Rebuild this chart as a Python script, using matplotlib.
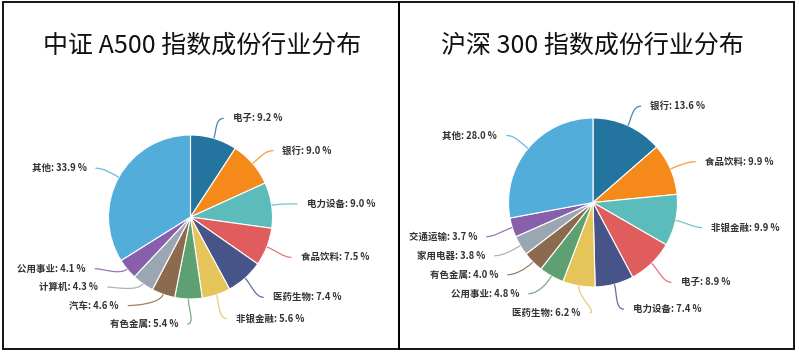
import numpy as np
import matplotlib
matplotlib.use("Agg")
import matplotlib.pyplot as plt
from matplotlib.path import Path
from matplotlib.patches import PathPatch, Rectangle

plt.rcParams['font.family'] = ['Noto Sans CJK SC', 'DejaVu Sans']

# ---------------- data ----------------
title_a500 = "中证 A500 指数成份行业分布"
cats_a500 = ["电子", "银行", "电力设备", "食品饮料", "医药生物", "非银金融",
             "有色金属", "汽车", "计算机", "公用事业", "其他"]
vals_a500 = [9.2, 9.0, 9.0, 7.5, 7.4, 5.6, 5.4, 4.6, 4.3, 4.1, 33.9]

title_hs300 = "沪深 300 指数成份行业分布"
cats_hs300 = ["银行", "食品饮料", "非银金融", "电子", "电力设备", "医药生物",
              "公用事业", "有色金属", "家用电器", "交通运输", "其他"]
vals_hs300 = [13.6, 9.9, 9.9, 8.9, 7.4, 6.2, 4.8, 4.0, 3.8, 3.7, 28.0]

colors = ["#23759f", "#f5891a", "#5cbcbc", "#e05d5e", "#47548a", "#e5c55a",
          "#5ea072", "#8c6a4d", "#9aa6b1", "#875fab", "#52addb"]

W, H, DPI = 799, 353, 100
fig = plt.figure(figsize=(W / DPI, H / DPI), dpi=DPI)
fig.patch.set_facecolor("white")


def draw_pie(cx, cy, r, cats, vals, R=1.28, gap=0.225, aw=380, ah=250):
    ax = fig.add_axes([(cx - aw / 2) / W, (H - cy - ah / 2) / H, aw / W, ah / H])
    wedges, _ = ax.pie(vals, colors=colors, startangle=90, counterclock=False,
                       radius=1.0, center=(0, 0),
                       wedgeprops=dict(edgecolor="white", linewidth=0.8))
    ax.set_aspect("auto")
    ax.set_xlim(-aw / 2 / r, aw / 2 / r)
    ax.set_ylim(-ah / 2 / r, ah / 2 / r)
    ax.axis("off")
    items = []
    for w, c, v, col in zip(wedges, cats, vals, colors):
        th = np.deg2rad((w.theta1 + w.theta2) / 2)
        d = 1 if np.cos(th) >= 0 else -1
        items.append(dict(th=th, d=d, y=R * np.sin(th), name=c, v=v, col=col))
    for d in (1, -1):
        side = sorted([it for it in items if it["d"] == d], key=lambda it: -it["y"])
        for i in range(1, len(side)):
            side[i]["y"] = min(side[i]["y"], side[i - 1]["y"] - gap)
        if side and side[-1]["y"] < -R:
            side[-1]["y"] = -R
            for i in range(len(side) - 2, -1, -1):
                side[i]["y"] = max(side[i]["y"], side[i + 1]["y"] + gap)
    for it in items:
        th, d, y = it["th"], it["d"], it["y"]
        x = d * np.sqrt(max(R * R - y * y, 0.0))
        yl = y - 0.025
        p0 = (np.cos(th), np.sin(th))
        c1 = (1.12 * np.cos(th), 1.12 * np.sin(th))
        p3 = (x + d * 0.04, yl)
        c2 = (p3[0] - d * 0.1, yl)
        path = Path([p0, c1, c2, p3], [Path.MOVETO, Path.CURVE4, Path.CURVE4, Path.CURVE4])
        ax.add_patch(PathPatch(path, facecolor="none", edgecolor=it["col"],
                               lw=0.9, alpha=0.85, clip_on=False))
        ax.text(x + d * 0.15, yl, f"{it['name']}: {it['v']:.1f} %",
                ha="left" if d > 0 else "right", va="center",
                fontsize=6.8, fontweight="bold", color="#333333", clip_on=False)
    return ax


draw_pie(190.5, 217, 82, cats_a500, vals_a500)
draw_pie(593, 202.5, 84.5, cats_hs300, vals_hs300)

fig.text(202 / W, 1 - 46 / H, title_a500, ha="center", va="center",
         fontsize=18, fontweight="light", color="#111111")
fig.text(592.5 / W, 1 - 46 / H, title_hs300, ha="center", va="center",
         fontsize=18, fontweight="light", color="#111111")

# panel borders
for x0, x1 in ((3, 399), (399, 794)):
    fig.patches.append(Rectangle((x0 / W, 1 - 349 / H), (x1 - x0) / W, (349 - 2) / H,
                                 transform=fig.transFigure, fill=False,
                                 edgecolor="black", linewidth=1.3))

fig.savefig("out.png", dpi=DPI, facecolor="white")
